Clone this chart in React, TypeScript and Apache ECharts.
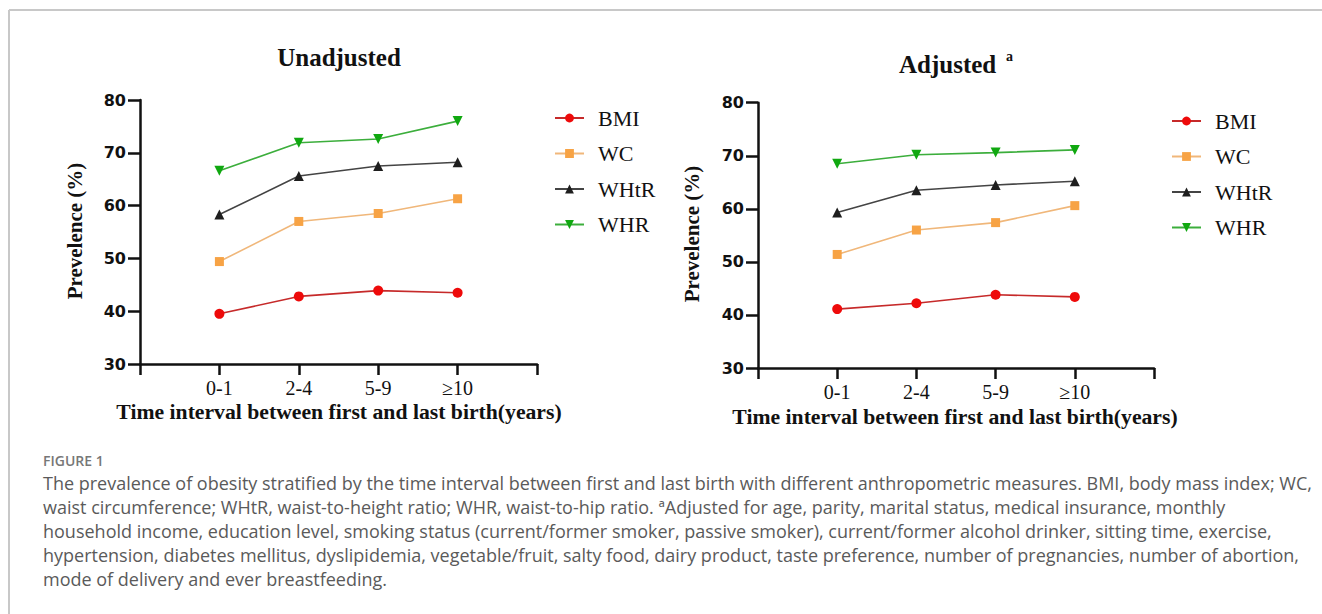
import React, { useEffect, useRef } from "react";
import * as echarts from "echarts";

const categories = ["0-1", "2-4", "5-9", "≥10"];
const seriesNames = ["BMI", "WC", "WHtR", "WHR"];

const unadjBMI = [39.5, 42.8, 43.9, 43.5];
const unadjWC = [49.4, 57.0, 58.5, 61.3];
const unadjWHtR = [58.3, 65.6, 67.5, 68.2];
const unadjWHR = [66.6, 71.9, 72.6, 76.0];

const adjBMI = [41.1, 42.2, 43.8, 43.4];
const adjWC = [51.4, 56.0, 57.4, 60.6];
const adjWHtR = [59.3, 63.5, 64.5, 65.2];
const adjWHR = [68.5, 70.2, 70.6, 71.1];

const yMin = 30;
const yMax = 80;
const yStep = 10;

const captionLines = [
  "The prevalence of obesity stratified by the time interval between first and last birth with different anthropometric measures. BMI, body mass index; WC,",
  "waist circumference; WHtR, waist-to-height ratio; WHR, waist-to-hip ratio. ªAdjusted for age, parity, marital status, medical insurance, monthly",
  "household income, education level, smoking status (current/former smoker, passive smoker), current/former alcohol drinker, sitting time, exercise,",
  "hypertension, diabetes mellitus, dyslipidemia, vegetable/fruit, salty food, dairy product, taste preference, number of pregnancies, number of abortion,",
  "mode of delivery and ever breastfeeding.",
];

const styles = [
  { marker: "#ee0a0a", line: "#c62a2a", symbol: "circle", size: 10, rotate: 0 },
  { marker: "#f7a345", line: "#f0b77a", symbol: "rect", size: 9, rotate: 0 },
  { marker: "#1e1e1e", line: "#444444", symbol: "triangle", size: 10, rotate: 0 },
  { marker: "#10a810", line: "#3cae3c", symbol: "triangle", size: 10, rotate: 180 },
];

const SERIF = "'Liberation Serif', 'Times New Roman', serif";

function makeSeries(sets: number[][], gridIndex: number) {
  return sets.map((vals, k) => ({
    name: seriesNames[k],
    type: "line",
    xAxisIndex: gridIndex,
    yAxisIndex: gridIndex,
    data: vals.map((v, i) => [i + 1, v]),
    symbol: styles[k].symbol,
    symbolSize: styles[k].size,
    symbolRotate: styles[k].rotate,
    itemStyle: { color: styles[k].marker },
    lineStyle: { color: styles[k].line, width: 1.6 },
    z: 3,
  }));
}

function xAxis(gridIndex: number) {
  return {
    type: "value",
    gridIndex,
    min: 0,
    max: 5,
    interval: 1,
    splitLine: { show: false },
    axisLine: { show: true, onZero: false, lineStyle: { color: "#111", width: 2.5 } },
    axisTick: { show: true, length: 11, lineStyle: { color: "#111", width: 2.5 } },
    axisLabel: {
      margin: 14,
      fontFamily: SERIF,
      fontSize: 20,
      color: "#111",
      formatter: (v: number) => (v >= 1 && v <= categories.length ? categories[v - 1] : ""),
    },
  };
}

function yAxis(gridIndex: number) {
  return {
    type: "value",
    gridIndex,
    min: yMin,
    max: yMax,
    interval: yStep,
    splitLine: { show: false },
    axisLine: { show: true, onZero: false, lineStyle: { color: "#111", width: 2.5 } },
    axisTick: { show: true, length: 12, lineStyle: { color: "#111", width: 2.5 } },
    axisLabel: {
      margin: 14,
      fontFamily: "'DejaVu Sans', sans-serif",
      fontWeight: "bold",
      fontSize: 16,
      color: "#111",
    },
  };
}

function legend(left: number, top: number) {
  return {
    orient: "vertical",
    left,
    top,
    padding: 0,
    itemWidth: 29,
    itemHeight: 11,
    itemGap: 13.5,
    data: seriesNames,
    textStyle: { fontFamily: SERIF, fontSize: 22, color: "#111", padding: [0, 0, 0, 9] },
  };
}

export default function App() {
  const ref = useRef<HTMLDivElement>(null);
  useEffect(() => {
    const chart = echarts.init(ref.current!, null, { renderer: "svg" });
    const boldSerif = (extra: any) => ({
      type: "text",
      style: { fontFamily: SERIF, fontWeight: "bold", fill: "#111", ...extra },
    });
    chart.setOption({
      animation: false,
      backgroundColor: "#ffffff",
      grid: [
        { left: 140, top: 100, width: 397, height: 264 },
        { left: 758, top: 102.7, width: 396, height: 265.3 },
      ],
      xAxis: [xAxis(0), xAxis(1)],
      yAxis: [yAxis(0), yAxis(1)],
      legend: [legend(554, 107), legend(1171, 110)],
      series: [
        ...makeSeries([unadjBMI, unadjWC, unadjWHtR, unadjWHR], 0),
        ...makeSeries([adjBMI, adjWC, adjWHtR, adjWHR], 1),
      ],
      graphic: [
        { type: "line", shape: { x1: 9, y1: 10, x2: 1330, y2: 10 }, style: { stroke: "#c8c8c8", lineWidth: 2 } },
        { type: "line", shape: { x1: 9, y1: 10, x2: 9, y2: 620 }, style: { stroke: "#c8c8c8", lineWidth: 2 } },
        { ...boldSerif({ text: "Unadjusted", x: 339, y: 57, fontSize: 25, textAlign: "center", textVerticalAlign: "middle" }) },
        { ...boldSerif({ text: "Adjusted", x: 899, y: 64, fontSize: 25, textAlign: "left", textVerticalAlign: "middle" }) },
        { ...boldSerif({ text: "a", x: 1006, y: 56, fontSize: 14, textAlign: "left", textVerticalAlign: "middle" }) },
        { ...boldSerif({ text: "Time interval between first and last birth(years)", x: 339, y: 411.5, fontSize: 21.7, textAlign: "center", textVerticalAlign: "middle" }) },
        { ...boldSerif({ text: "Time interval between first and last birth(years)", x: 955, y: 416.5, fontSize: 21.7, textAlign: "center", textVerticalAlign: "middle" }) },
        { ...boldSerif({ text: "Prevelence (%)", fontSize: 21, textAlign: "center", textVerticalAlign: "middle" }), x: 75, y: 231, rotation: Math.PI / 2 },
        { ...boldSerif({ text: "Prevelence (%)", fontSize: 21, textAlign: "center", textVerticalAlign: "middle" }), x: 692, y: 234, rotation: Math.PI / 2 },
        {
          type: "text",
          style: { text: "FIGURE 1", x: 43, y: 460, fontFamily: "'Open Sans', sans-serif", fontWeight: 600, fontSize: 14, fill: "#777", textAlign: "left", textVerticalAlign: "middle" },
        },
        ...captionLines.map((t, i) => ({
          type: "text",
          style: { text: t, x: 43, y: 483 + i * 24, fontFamily: "'Open Sans', sans-serif", fontSize: 18, fill: "#5a5a5a", textAlign: "left", textVerticalAlign: "middle" },
        })),
      ],
    });
    return () => chart.dispose();
  }, []);
  return (
    <div
      ref={ref}
      style={{ position: "fixed", left: 0, top: 0, width: 1322, height: 614, background: "#fff" }}
    />
  );
}
